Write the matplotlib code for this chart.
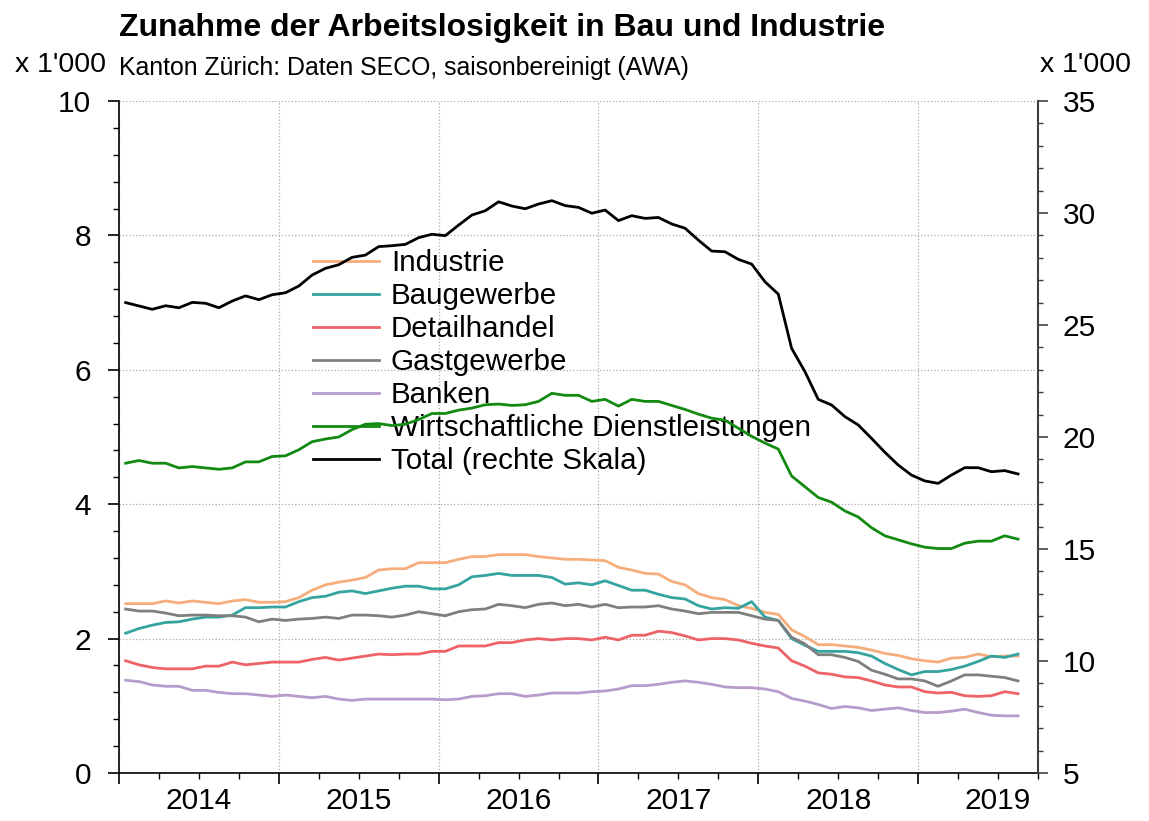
import matplotlib.pyplot as plt
import numpy as np

plt.rcParams['font.family'] = ['Liberation Sans', 'DejaVu Sans']

# Monatswerte Jan 2014 - Aug 2019, Arbeitslose in Tausend
industrie = [2.52, 2.52, 2.52, 2.56, 2.53, 2.56, 2.54, 2.52, 2.56, 2.58, 2.54, 2.54,
             2.55, 2.61, 2.72, 2.80, 2.84, 2.87, 2.91, 3.02, 3.04, 3.04, 3.13, 3.13,
             3.13, 3.18, 3.22, 3.22, 3.25, 3.25, 3.25, 3.22, 3.20, 3.18, 3.18, 3.17,
             3.16, 3.06, 3.02, 2.97, 2.96, 2.85, 2.80, 2.67, 2.61, 2.58, 2.49, 2.45,
             2.39, 2.36, 2.13, 2.03, 1.91, 1.91, 1.89, 1.87, 1.83, 1.78, 1.75, 1.70,
             1.67, 1.65, 1.71, 1.72, 1.77, 1.73, 1.74, 1.74]
baugewerbe = [2.08, 2.15, 2.20, 2.24, 2.25, 2.29, 2.32, 2.32, 2.35, 2.46, 2.46, 2.47,
              2.47, 2.55, 2.61, 2.63, 2.69, 2.71, 2.67, 2.71, 2.75, 2.78, 2.78, 2.74,
              2.74, 2.80, 2.92, 2.94, 2.97, 2.94, 2.94, 2.94, 2.91, 2.81, 2.83, 2.80,
              2.86, 2.79, 2.72, 2.72, 2.66, 2.61, 2.59, 2.49, 2.44, 2.46, 2.45, 2.55,
              2.32, 2.27, 2.00, 1.90, 1.81, 1.81, 1.81, 1.79, 1.74, 1.63, 1.54, 1.46,
              1.51, 1.51, 1.54, 1.59, 1.66, 1.74, 1.72, 1.77]
detailhandel = [1.67, 1.61, 1.57, 1.55, 1.55, 1.55, 1.59, 1.59, 1.65, 1.61, 1.63, 1.65,
                1.65, 1.65, 1.69, 1.72, 1.68, 1.71, 1.74, 1.77, 1.76, 1.77, 1.77, 1.81,
                1.81, 1.89, 1.89, 1.89, 1.94, 1.94, 1.98, 2.00, 1.98, 2.00, 2.00, 1.98,
                2.02, 1.98, 2.05, 2.05, 2.11, 2.09, 2.04, 1.98, 2.00, 2.00, 1.98, 1.93,
                1.89, 1.86, 1.67, 1.59, 1.49, 1.47, 1.43, 1.42, 1.37, 1.31, 1.28, 1.28,
                1.21, 1.19, 1.20, 1.15, 1.14, 1.15, 1.21, 1.18]
gastgewerbe = [2.44, 2.41, 2.41, 2.38, 2.34, 2.35, 2.35, 2.34, 2.34, 2.32, 2.25, 2.29,
               2.27, 2.29, 2.30, 2.32, 2.30, 2.35, 2.35, 2.34, 2.32, 2.35, 2.40, 2.37,
               2.34, 2.40, 2.43, 2.44, 2.51, 2.49, 2.46, 2.51, 2.53, 2.49, 2.51, 2.47,
               2.51, 2.46, 2.47, 2.47, 2.49, 2.44, 2.41, 2.37, 2.39, 2.39, 2.39, 2.34,
               2.29, 2.27, 2.02, 1.92, 1.76, 1.76, 1.72, 1.66, 1.53, 1.47, 1.40, 1.40,
               1.37, 1.29, 1.37, 1.46, 1.46, 1.44, 1.42, 1.37]
banken = [1.38, 1.36, 1.31, 1.29, 1.29, 1.23, 1.23, 1.20, 1.18, 1.18, 1.16, 1.14,
          1.16, 1.14, 1.12, 1.14, 1.10, 1.08, 1.10, 1.10, 1.10, 1.10, 1.10, 1.10,
          1.09, 1.10, 1.14, 1.15, 1.18, 1.18, 1.14, 1.16, 1.19, 1.19, 1.19, 1.21,
          1.22, 1.25, 1.30, 1.30, 1.32, 1.35, 1.37, 1.35, 1.32, 1.28, 1.27, 1.27,
          1.25, 1.21, 1.11, 1.07, 1.02, 0.96, 0.99, 0.97, 0.93, 0.95, 0.97, 0.93,
          0.90, 0.90, 0.92, 0.95, 0.90, 0.86, 0.85, 0.85]
dienstleistungen = [4.61, 4.65, 4.61, 4.61, 4.54, 4.56, 4.54, 4.52, 4.54, 4.63, 4.63, 4.71,
                    4.72, 4.81, 4.93, 4.97, 5.00, 5.11, 5.19, 5.20, 5.17, 5.19, 5.26, 5.35,
                    5.35, 5.40, 5.43, 5.48, 5.49, 5.47, 5.48, 5.53, 5.65, 5.62, 5.62, 5.53,
                    5.56, 5.46, 5.56, 5.53, 5.53, 5.47, 5.41, 5.34, 5.28, 5.25, 5.13, 5.01,
                    4.91, 4.82, 4.42, 4.26, 4.10, 4.03, 3.90, 3.81, 3.65, 3.53, 3.47, 3.41,
                    3.36, 3.34, 3.34, 3.42, 3.45, 3.45, 3.53, 3.48]
total = [26.00, 25.85, 25.70, 25.86, 25.77, 26.01, 25.97, 25.77, 26.07, 26.30, 26.13, 26.35,
         26.44, 26.74, 27.23, 27.53, 27.69, 28.02, 28.12, 28.50, 28.54, 28.60, 28.90, 29.05,
         28.99, 29.46, 29.91, 30.10, 30.50, 30.31, 30.19, 30.40, 30.55, 30.33, 30.25, 29.99,
         30.13, 29.66, 29.88, 29.76, 29.80, 29.51, 29.32, 28.79, 28.30, 28.27, 27.93, 27.72,
         26.93, 26.38, 23.96, 22.92, 21.68, 21.43, 20.91, 20.54, 19.94, 19.32, 18.75, 18.30,
         18.04, 17.93, 18.30, 18.63, 18.63, 18.45, 18.50, 18.35]

years = ['2014', '2015', '2016', '2017', '2018', '2019']

series = [(industrie, 'Industrie', '#F5AD7B'),
          (baugewerbe, 'Baugewerbe', '#35A39F'),
          (detailhandel, 'Detailhandel', '#EE6367'),
          (gastgewerbe, 'Gastgewerbe', '#7F7F7F'),
          (banken, 'Banken', '#B69BCB'),
          (dienstleistungen, 'Wirtschaftliche Dienstleistungen', '#128A12')]

x = np.arange(len(total)) + 0.5   # Monatsmitte

W, H = 1149, 821
fig = plt.figure(figsize=(W / 100, H / 100), dpi=100)
ax = fig.add_axes([119 / W, 1 - 773 / H, (1038 - 119) / W, (773 - 101) / H])
ax2 = ax.twinx()

for vals, lab, col in series:
    ax.plot(x, vals, color=col, lw=2.0, label=lab)
ax2.plot(x, total, color='black', lw=2.0, label='Total (rechte Skala)')

ax.set_xlim(0, 69)
ax.set_ylim(0, 10)
ax2.set_ylim(5, 35)

ax.set_xticks(np.arange(0, 61, 12))
ax.set_xticks(np.arange(0, 70, 3), minor=True)
ax.set_xticklabels([])
for k, yr in enumerate(years):
    ax.text(6 + 12 * k, -0.041, yr, transform=ax.get_xaxis_transform(),
            ha='center', va='center', fontsize=21.5)

ax.set_yticks(np.arange(0, 11, 2))
ax.set_yticks(np.arange(0, 10.01, 0.4), minor=True)
ax2.set_yticks(np.arange(5, 36, 5))
ax2.set_yticks(np.arange(5, 36, 1), minor=True)

ax.tick_params(axis='y', which='major', length=8, width=1.2, labelsize=21.5, pad=12)
ax.tick_params(axis='y', which='minor', length=4, width=1.0)
ax.tick_params(axis='x', which='major', length=8, width=1.2)
ax.tick_params(axis='x', which='minor', length=4, width=1.0)
ax2.tick_params(axis='y', which='major', length=7, width=1.2, labelsize=21.5, pad=11, color='#404040')
ax2.tick_params(axis='y', which='minor', length=3.5, width=1.0, color='#404040')

ax.grid(True, which='major', color='#aaaaaa', linestyle=':', linewidth=0.9)
ax.set_axisbelow(True)

ax.spines['top'].set_visible(False)
ax.spines['right'].set_visible(False)
ax.spines['left'].set_linewidth(1.2)
ax.spines['bottom'].set_linewidth(1.2)
for s in ['top', 'left', 'bottom']:
    ax2.spines[s].set_visible(False)
ax2.spines['right'].set_color('#404040')
ax2.spines['right'].set_linewidth(1.5)

h1, l1 = ax.get_legend_handles_labels()
h2, l2 = ax2.get_legend_handles_labels()
leg = ax.legend(h1 + h2, l1 + l2, loc='upper left',
                bbox_to_anchor=(313 / W, 1 - 249 / H), bbox_transform=fig.transFigure,
                frameon=False, fontsize=21.3, handlelength=2.23, handletextpad=0.4,
                labelspacing=0.17, borderpad=0, borderaxespad=0)
leg.set_zorder(1.5)

fig.text(119 / W, 1 - 28 / H, 'Zunahme der Arbeitslosigkeit in Bau und Industrie',
         fontsize=23, fontweight='bold', ha='left', va='center')
fig.text(119 / W, 1 - 68 / H, 'Kanton Zürich: Daten SECO, saisonbereinigt (AWA)',
         fontsize=17.9, ha='left', va='center')
fig.text(15 / W, 1 - 65 / H, "x 1'000", fontsize=20.5, ha='left', va='center')
fig.text(1040 / W, 1 - 65 / H, "x 1'000", fontsize=20.5, ha='left', va='center')

fig.savefig('out.png', dpi=100)
